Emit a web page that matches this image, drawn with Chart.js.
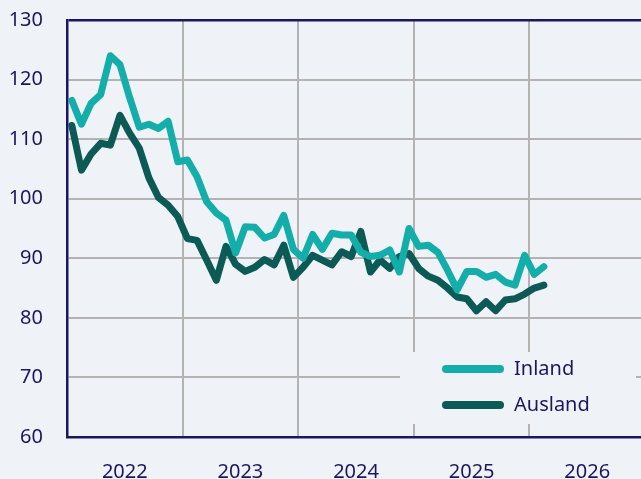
<!DOCTYPE html>
<html>
<head>
<meta charset="utf-8">
<script src="https://cdn.jsdelivr.net/npm/chart.js@4"></script>
<style>
    html, body { margin: 0; padding: 0; background: #eff3f8; }
    #wrap { width: 641px; height: 479px; }
</style>
</head>
<body>
<div id="wrap"><canvas id="index_chart" width="641" height="479"></canvas></div>
<script>
    // monatswerte ab jan 2022
    var startYear = 2022;
    var yearLabels = ["2022", "2023", "2024", "2025", "2026"];
    var yTicks = [60, 70, 80, 90, 100, 110, 120, 130];

    var inland = [
        116.5, 112.5, 116, 117.5, 124, 122.5, 117, 112, 112.5, 111.8, 113, 106.2,
        106.5, 103.7, 99.5, 97.6, 96.4, 90.9, 95.3, 95.2, 93.4, 94, 97.2, 91.5,
        90, 94, 91.5, 94.2, 93.9, 93.9, 91, 90.3, 90.5, 91.4, 87.7, 95,
        92, 92.2, 91, 88, 84.7, 87.8, 87.8, 86.8, 87.3, 86, 85.5, 90.5,
        87.3, 88.6
    ];
    var ausland = [
        112.3, 104.8, 107.5, 109.3, 109, 114, 111, 108.5, 103.5, 100.2, 98.9, 97,
        93.3, 93, 89.7, 86.3, 92, 89, 87.8, 88.5, 89.8, 88.9, 92.2, 86.8,
        88.5, 90.5, 89.7, 88.9, 91.1, 90.3, 94.5, 87.7, 89.7, 88.3, 90.3, 90.8,
        88.3, 87, 86.3, 85, 83.5, 83.2, 81.2, 82.7, 81.2, 83, 83.2, 84,
        85, 85.5
    ];

    var navy = "#1b1660";
    var grey = "#b3b3b3";

    function toPoints(list) {
        return list.map(function (v, i) {
            return {x: startYear + (i + 0.5) / 12, y: v};
        });
    }

    // legende im plotbereich, mit hintergrund ueber dem gitter
    var boxLegend = {
        id: 'boxLegend',
        beforeDatasetsDraw: function (chart) {
            var ctx = chart.ctx;
            ctx.save();
            ctx.fillStyle = "#eff3f8";
            ctx.fillRect(400, 352, 236, 72);
            chart.data.datasets.forEach(function (ds, i) {
                var y = 369 + i * 36;
                ctx.strokeStyle = ds.borderColor;
                ctx.lineWidth = 8;
                ctx.lineCap = 'round';
                ctx.beginPath();
                ctx.moveTo(446, y);
                ctx.lineTo(500, y);
                ctx.stroke();
                ctx.fillStyle = navy;
                ctx.font = '20px "Noto Sans"';
                ctx.textBaseline = 'middle';
                ctx.fillText(ds.label, 514, y);
            });
            ctx.restore();
        }
    };

    new Chart(document.getElementById("index_chart").getContext("2d"), {
        type: 'line',
        data: {
            datasets: [{
                label: "Inland",
                data: toPoints(inland),
                borderColor: "#13aea9",
                borderWidth: 7,
                pointRadius: 0,
                borderJoinStyle: 'round',
                borderCapStyle: 'round',
                tension: 0
            }, {
                label: "Ausland",
                data: toPoints(ausland),
                borderColor: "#0b5a55",
                borderWidth: 7,
                pointRadius: 0,
                borderJoinStyle: 'round',
                borderCapStyle: 'round',
                tension: 0
            }]
        },
        options: {
            responsive: false,
            animation: false,
            layout: {padding: {top: 20, right: 0, left: 0, bottom: 0}},
            plugins: {legend: {display: false}, tooltip: {enabled: false}},
            scales: {
                x: {
                    type: 'linear',
                    min: 2022,
                    max: 2026.965,
                    afterBuildTicks: function (scale) {
                        var t = [];
                        for (var i = 0; i < yearLabels.length; i++) {
                            t.push({value: startYear + i});
                            t.push({value: startYear + i + 0.5});
                        }
                        scale.ticks = t;
                    },
                    afterFit: function (scale) {
                        scale.height = 42;
                        scale.paddingLeft = 0;
                        scale.paddingRight = 0;
                    },
                    border: {color: navy, width: 2.5},
                    grid: {
                        drawTicks: false,
                        lineWidth: 2,
                        color: function (c) {
                            var v = c.tick ? c.tick.value : 0;
                            return (v % 1 === 0 && v > startYear) ? grey : 'rgba(0,0,0,0)';
                        }
                    },
                    ticks: {
                        autoSkip: false,
                        maxRotation: 0,
                        padding: 23,
                        color: navy,
                        font: {family: "Noto Sans", size: 20},
                        callback: function (v) {
                            if (v % 1 === 0) return '';
                            return yearLabels[Math.floor(v) - startYear];
                        }
                    }
                },
                y: {
                    min: 60,
                    max: 130,
                    afterBuildTicks: function (scale) {
                        scale.ticks = yTicks.map(function (v) { return {value: v}; });
                    },
                    afterFit: function (scale) {
                        scale.width = 67;
                        scale.paddingTop = 0;
                        scale.paddingBottom = 0;
                    },
                    border: {color: navy, width: 2.5},
                    grid: {
                        drawTicks: false,
                        lineWidth: function (c) { return c.tick && c.tick.value === 130 ? 2.5 : 2; },
                        color: function (c) {
                            return c.tick && c.tick.value === 130 ? navy : grey;
                        }
                    },
                    ticks: {
                        padding: 24,
                        color: navy,
                        font: {family: "Noto Sans", size: 20}
                    }
                }
            }
        },
        plugins: [boxLegend]
    });
</script>
</body>
</html>
